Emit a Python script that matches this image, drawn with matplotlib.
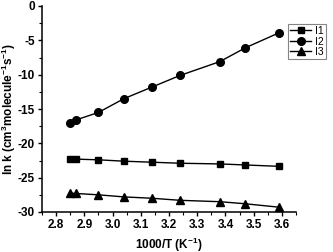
import matplotlib
matplotlib.use("Agg")
import matplotlib.pyplot as plt
from matplotlib.ticker import MultipleLocator

plt.rcParams["font.family"] = ["Liberation Sans", "DejaVu Sans"]
plt.rcParams["font.weight"] = "bold"
plt.rcParams["mathtext.fontset"] = "custom"
plt.rcParams["mathtext.rm"] = "Liberation Sans:bold"
plt.rcParams["mathtext.bf"] = "Liberation Sans:bold"
plt.rcParams["axes.unicode_minus"] = False

# 数据
inv_t = [2.85, 2.87, 2.95, 3.04, 3.14, 3.24, 3.38, 3.47, 3.59]
ln_k_i1 = [-22.3, -22.3, -22.4, -22.6, -22.75, -22.9, -23.0, -23.15, -23.35]
ln_k_i2 = [-17.0, -16.6, -15.5, -13.5, -11.8, -10.1, -8.1, -6.1, -3.9]
ln_k_i3 = [-27.25, -27.3, -27.5, -27.8, -28.0, -28.3, -28.5, -28.8, -29.3]

fig = plt.figure(figsize=(3.33, 2.52), dpi=100)
ax = fig.add_axes([42 / 333, 1 - 212 / 252, (296 - 42) / 333, (212 - 6) / 252])

ax.plot(inv_t, ln_k_i1, "k-s", lw=1, ms=5, label="I1")
ax.plot(inv_t, ln_k_i2, "k-o", lw=1, ms=5.5, label="I2")
ax.plot(inv_t, ln_k_i3, "k-^", lw=1, ms=5.5, label="I3")

ax.set_xlim(2.75, 3.65)
ax.set_ylim(-30, 0)
ax.xaxis.set_major_locator(MultipleLocator(0.1))
ax.xaxis.set_minor_locator(MultipleLocator(0.05))
ax.yaxis.set_major_locator(MultipleLocator(5))
ax.yaxis.set_minor_locator(MultipleLocator(2.5))
ax.spines["top"].set_visible(False)
ax.spines["right"].set_visible(False)
ax.spines["left"].set_linewidth(1.1)
ax.spines["bottom"].set_linewidth(1.1)
ax.tick_params(which="major", direction="out", length=3, width=1, labelsize=8.5, pad=2)
ax.tick_params(which="minor", direction="out", length=2, width=0.8)
for lbl in ax.get_xticklabels() + ax.get_yticklabels():
    lbl.set_fontweight("bold")

ax.set_xlabel("1000/T (K$^{-1}$)", fontsize=8.5, fontweight="bold")
ax.set_ylabel("ln k (cm$^{3}$molecule$^{-1}$s$^{-1}$)", fontsize=8.5, fontweight="bold")
ax.xaxis.set_label_coords(0.5, -0.115)
ax.yaxis.set_label_coords(-0.095, 0.5)

leg = fig.legend(loc="upper left", bbox_to_anchor=(288 / 333, 1 - 24 / 252),
                 fontsize=7.5, frameon=True, fancybox=False, edgecolor="0.4",
                 handlelength=2.0, handletextpad=0.4, borderpad=0.2,
                 labelspacing=0.05, borderaxespad=0)
leg.get_frame().set_linewidth(0.8)
for t in leg.get_texts():
    t.set_fontweight("normal")

fig.savefig("out.png", dpi=100)
